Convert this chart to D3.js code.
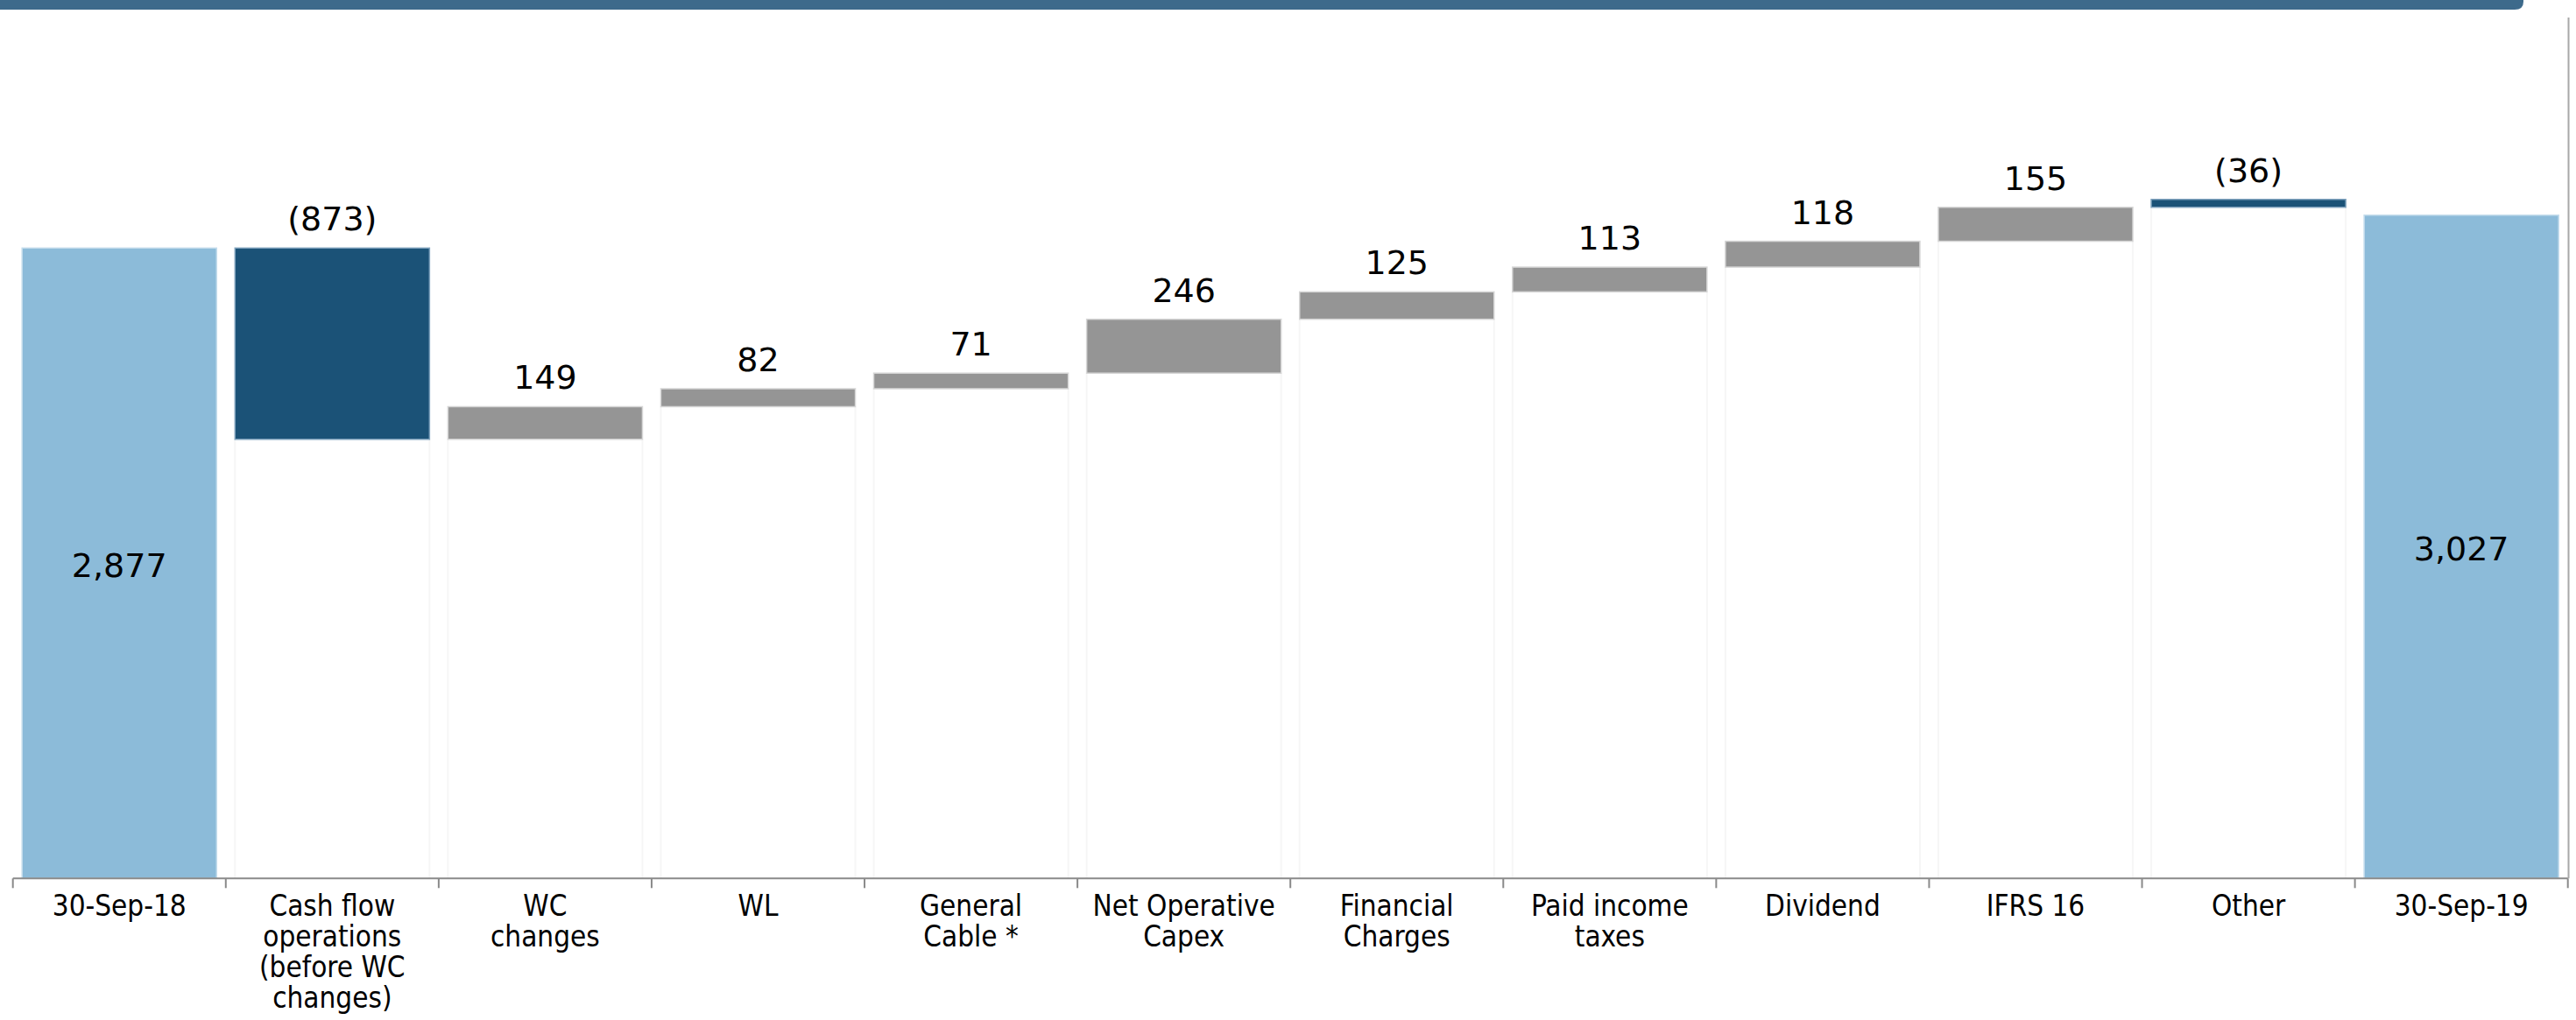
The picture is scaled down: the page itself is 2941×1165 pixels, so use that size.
<!DOCTYPE html>
<html>
<head>
<meta charset="utf-8">
<script src="https://cdn.jsdelivr.net/npm/d3@7"></script>
<style>
  html, body { margin: 0; padding: 0; background: #ffffff; }
  svg { display: block; }
</style>
</head>
<body>
<svg id="chart" width="2941" height="1165"></svg>
<script>
// Net debt bridge, 30-Sep-18 to 30-Sep-19
const categories = [
  "30-Sep-18",
  "Cash flow\noperations\n(before WC\nchanges)",
  "WC\nchanges",
  "WL",
  "General\nCable *",
  "Net Operative\nCapex",
  "Financial\nCharges",
  "Paid income\ntaxes",
  "Dividend",
  "IFRS 16",
  "Other",
  "30-Sep-19"
];

// Opening and closing totals
const openingTotal = 2877;
const closingTotal = 3027;

// Movements between the two totals (negative values shown in brackets)
const stepValues = [-873, 149, 82, 71, 246, 125, 113, 118, 155, -36];

// Level each floating bar rests on
const stepFloors = [2004, 2004, 2153, 2235, 2306, 2552, 2677, 2790, 2908, 3063];

// Which movements are drawn in the dark highlight colour
const stepHighlight = [true, false, false, false, false, false, false, false, false, true];

const baseY = 1003.3;
const svg = d3.select("#chart");

const x = d3.scaleBand()
  .domain(categories)
  .range([14.7, 2931.7])
  .paddingInner(0.0864)
  .paddingOuter(0.0432);

const y = d3.scaleLinear()
  .domain([0, 4000])
  .range([baseY, baseY - 1001.04]);

const colors = {
  total: "#8cbbd9",
  totalEdge: "#c4dcec",
  highlight: "#1b5277",
  highlightEdge: "#7fa2bd",
  step: "#959595",
  stepEdge: "#d6d6d6",
  drop: "#f6f6f6",
  axis: "#8a8a8a"
};

// Header band
svg.append("path")
  .attr("d", "M0,0 H2881 V2 Q2881,11 2871,11 H0 Z")
  .attr("fill", "#3d6a8b");

// Right frame line
svg.append("line")
  .attr("x1", 2932.5).attr("x2", 2932.5)
  .attr("y1", 20).attr("y2", baseY)
  .attr("stroke", "#a8a8a8").attr("stroke-width", 2);

// Build bar records
const bars = [];
bars.push({ cat: categories[0], lo: 0, hi: openingTotal, kind: "total", value: openingTotal });
stepValues.forEach((v, i) => {
  const lo = stepFloors[i];
  bars.push({
    cat: categories[i + 1],
    lo: lo,
    hi: lo + Math.abs(v),
    kind: stepHighlight[i] ? "highlight" : "step",
    value: v
  });
});
bars.push({ cat: categories[categories.length - 1], lo: 0, hi: closingTotal, kind: "total", value: closingTotal });

// Faint drop lines under floating bars
const floating = bars.filter(d => d.kind !== "total");
const drops = svg.append("g");
floating.forEach(d => {
  [x(d.cat), x(d.cat) + x.bandwidth()].forEach(px => {
    drops.append("line")
      .attr("x1", px).attr("x2", px)
      .attr("y1", y(d.lo)).attr("y2", baseY)
      .attr("stroke", colors.drop).attr("stroke-width", 2);
  });
});

// Bars
svg.append("g").selectAll("rect")
  .data(bars)
  .join("rect")
  .attr("x", d => x(d.cat))
  .attr("width", x.bandwidth())
  .attr("y", d => y(d.hi))
  .attr("height", d => y(d.lo) - y(d.hi))
  .attr("fill", d => colors[d.kind])
  .attr("stroke", d => colors[d.kind + "Edge"])
  .attr("stroke-width", 1.5);

const fmt = d3.format(",");
const labelFont = "'DejaVu Sans', Verdana, sans-serif";

// Totals: value written inside the bar
svg.append("g").selectAll("text")
  .data(bars.filter(d => d.kind === "total"))
  .join("text")
  .attr("x", d => x(d.cat) + x.bandwidth() / 2)
  .attr("y", d => (y(d.hi) + y(d.lo)) / 2)
  .attr("dy", "0.42em")
  .attr("text-anchor", "middle")
  .attr("font-family", labelFont)
  .attr("font-size", 38)
  .attr("fill", "#000")
  .text(d => fmt(d.value));

// Movements: value written above the bar
svg.append("g").selectAll("text")
  .data(floating)
  .join("text")
  .attr("x", d => x(d.cat) + x.bandwidth() / 2)
  .attr("y", d => y(d.hi) - 20)
  .attr("text-anchor", "middle")
  .attr("font-family", labelFont)
  .attr("font-size", 38)
  .attr("fill", "#000")
  .text(d => d.value < 0 ? "(" + fmt(-d.value) + ")" : fmt(d.value));

// Category axis: baseline, boundary ticks and wrapped labels
const axisG = svg.append("g");
const [r0, r1] = x.range();
axisG.append("line")
  .attr("x1", r0).attr("x2", r1)
  .attr("y1", baseY).attr("y2", baseY)
  .attr("stroke", colors.axis).attr("stroke-width", 2);

const boundaries = d3.range(categories.length + 1).map(i => r0 + i * x.step());
axisG.selectAll("line.tick")
  .data(boundaries)
  .join("line")
  .attr("class", "tick")
  .attr("x1", d => d).attr("x2", d => d)
  .attr("y1", baseY).attr("y2", baseY + 11)
  .attr("stroke", colors.axis).attr("stroke-width", 2);

const catLabels = axisG.selectAll("text")
  .data(categories)
  .join("text")
  .attr("x", d => x(d) + x.bandwidth() / 2)
  .attr("y", baseY + 43)
  .attr("text-anchor", "middle")
  .attr("font-family", "'DejaVu Sans Condensed', 'DejaVu Sans', sans-serif")
  .attr("font-stretch", "condensed")
  .attr("font-size", 33)
  .attr("fill", "#000");

catLabels.each(function(d) {
  const t = d3.select(this);
  d.split("\n").forEach((line, i) => {
    t.append("tspan")
      .attr("x", x(d) + x.bandwidth() / 2)
      .attr("dy", i === 0 ? 0 : 35)
      .text(line);
  });
});
</script>
</body>
</html>
